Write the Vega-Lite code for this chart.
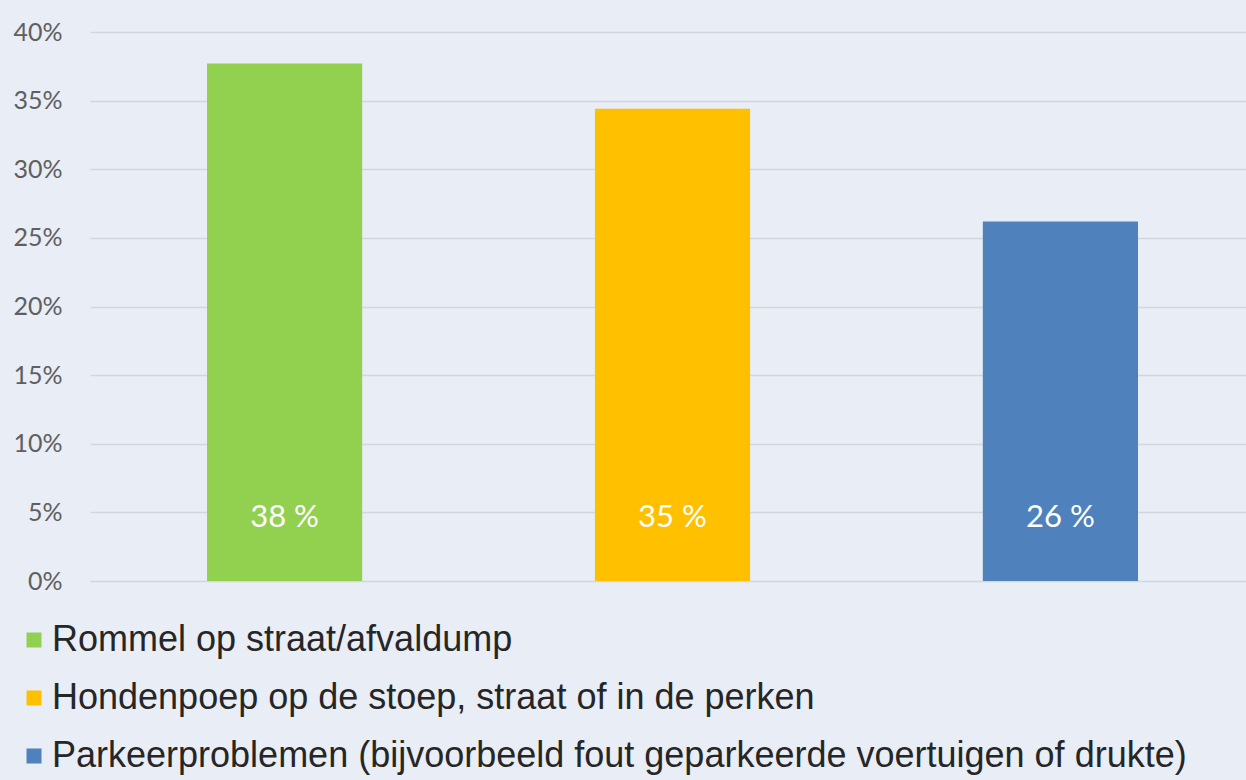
{
  "$schema": "https://vega.github.io/schema/vega-lite/v6.json",
  "width": 1156,
  "height": 549,
  "autosize": {"type": "none"},
  "padding": {"left": 90, "top": 32, "right": 0, "bottom": 199},
  "background": "#e9edf5",
  "config": {"view": {"stroke": null}},
  "data": {
    "values": [
      {"category": "Rommel op straat/afvaldump", "value": 37.7, "label": "38 %"},
      {"category": "Hondenpoep op de stoep, straat of in de perken", "value": 34.4, "label": "35 %"},
      {"category": "Parkeerproblemen (bijvoorbeeld fout geparkeerde voertuigen of drukte)", "value": 26.2, "label": "26 %"}
    ]
  },
  "encoding": {
    "x": {
      "field": "category",
      "type": "nominal",
      "sort": null,
      "axis": null,
      "scale": {"paddingInner": 0.6, "paddingOuter": 0.29, "align": 0.52}
    }
  },
  "layer": [
    {
      "mark": {"type": "bar"},
      "encoding": {
        "y": {
          "field": "value",
          "type": "quantitative",
          "scale": {"domain": [0, 40], "nice": false},
          "axis": {
            "title": null,
            "values": [0, 5, 10, 15, 20, 25, 30, 35, 40],
            "labelExpr": "datum.value + '%'",
            "domain": false,
            "ticks": false,
            "grid": true,
            "gridColor": "#d3d6dc",
            "gridWidth": 1.5,
            "labelPadding": 28,
            "labelFont": "Lato",
            "labelFontSize": 25,
            "labelColor": "#5f5f5f"
          }
        },
        "color": {
          "field": "category",
          "type": "nominal",
          "scale": {
            "domain": [
              "Rommel op straat/afvaldump",
              "Hondenpoep op de stoep, straat of in de perken",
              "Parkeerproblemen (bijvoorbeeld fout geparkeerde voertuigen of drukte)"
            ],
            "range": ["#92d050", "#ffc000", "#4f81bd"]
          },
          "legend": {
            "title": null,
            "orient": "none",
            "legendX": -74,
            "legendY": 590,
            "direction": "vertical",
            "symbolType": "square",
            "symbolSize": 225,
            "symbolStrokeWidth": 0,
            "symbolOpacity": 1,
            "labelFont": "Liberation Sans",
            "labelFontSize": 36,
            "labelColor": "#262626",
            "labelLimit": 1300,
            "labelOffset": 0,
            "rowPadding": 22
          }
        }
      }
    },
    {
      "mark": {"type": "text", "color": "white", "font": "Lato", "fontSize": 31, "baseline": "middle", "align": "center"},
      "encoding": {
        "y": {"datum": 4.6},
        "text": {"field": "label"}
      }
    }
  ]
}
